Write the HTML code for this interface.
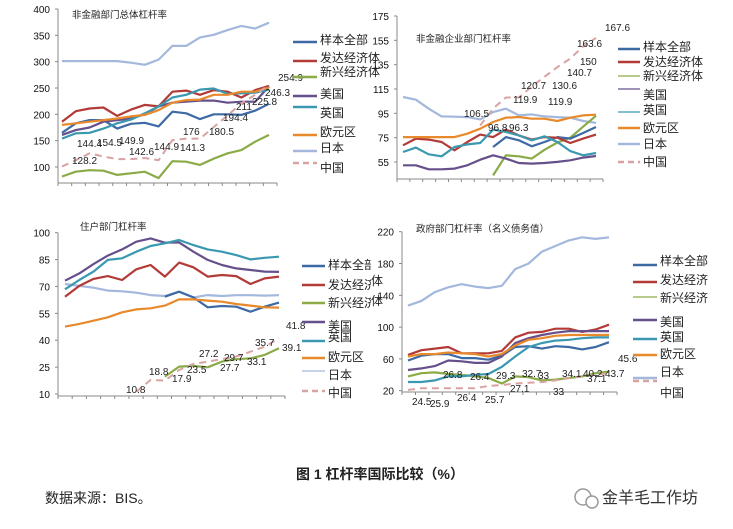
<!DOCTYPE html>
<html><head><meta charset="utf-8"><style>
html,body{margin:0;padding:0;background:#fff;width:733px;height:529px;overflow:hidden}
svg{display:block}
text{font-family:"Liberation Sans","Noto Sans CJK SC",sans-serif}
</style></head><body>
<svg id="c" width="733" height="529" xmlns="http://www.w3.org/2000/svg">
<defs>
<clipPath id="clipL"><rect x="0" y="200" width="371" height="210"/></clipPath>
</defs>
<g id="root"></g>
<text x="371" y="285" font-size="12" fill="#222">体</text>
<text x="371" y="305" font-size="12" fill="#222">体</text>
<text x="380" y="479" text-anchor="middle" font-size="14" font-weight="bold" fill="#222">图 1 杠杆率国际比较（%）</text>
<text x="45" y="503" font-size="14" fill="#222" font-family="Liberation Serif,Noto Serif CJK SC,serif">数据来源：BIS。</text>
<g>
<circle cx="583" cy="497" r="8" fill="none" stroke="#999" stroke-width="1.5"/>
<circle cx="592" cy="502" r="6" fill="#fff" stroke="#999" stroke-width="1.5"/>
<text x="602" y="503" font-size="16" fill="#333">金羊毛工作坊</text>
</g>
</svg>
<script>
// Panel 1 data: 非金融部门总体杠杆率
const p1Sample=[165,183,189,189,173,182,184,177,205,202,191,200,200,199,207,220];
const p1Dev=[186,206,211,213,197,209,218,215,243,245,237,246,243,232,246,254];
const p1Emg=[82,91,94,93,85,88,91,79,111,110,104,116,126,132,148,161];
const p1US=[161,170,175,186,189,192,200,215,222,224,226,226,222,224,224,253];
const p1UK=[154,164,165,173,183,190,202,215,232,237,247,249,239,240,241,247];
const p1Euro=[180,183,186,189,192,196,199,208,222,227,228,237,237,243,243,251];
const p1Japan=[301,301,301,301,301,298,294,304,330,330,346,351,360,368,363,374];
const p1China=[101,113,126,120,115,115,117,113,151,154,154,176,198,221,237,256];
const p1Ticks=[100,150,200,250,300,350,400];
// Panel 2 data: 非金融企业部门杠杆率
const p2Sample=[null,null,null,null,null,null,null,67.3,75.5,72.8,67.9,71.4,75.5,74.2,78.8,83.8];
const p2Dev=[68.7,74.2,73.4,71.4,64.6,71.4,77.5,75.5,81.6,76.9,73.4,75.5,75.0,70.6,74.2,77.5];
const p2Emg=[null,null,null,null,null,null,null,44,60.5,59.7,57.8,65,71,75,84,93];
const p2US=[52.3,52.3,49,49,49.6,52.3,56.9,60.5,57.8,54.2,53.7,54.2,55.1,56.4,58.6,59.9];
const p2UK=[63.2,66.8,61.3,59.7,67.3,69.5,70.6,81.6,79.7,76.9,72.8,76.1,71.4,64,60.5,62.4];
const p2Euro=[75.5,75.5,75.5,75.5,75.5,78.3,82.4,87.9,91.4,92,90.6,90.6,88.7,91.4,93.3,93.9];
const p2Japan=[108.4,106.2,98.8,92.5,92.2,91.9,90,96,98.8,93.3,94.1,92.5,91.9,91.4,88.7,87.1];
const p2China=[null,null,null,null,null,null,85,99,108,108,117,125,133,140,150,157];
const p2Ticks=[55,75,95,115,135,155,175];
// Panel 3 data: 住户部门杠杆率
const p3Sample=[null,null,null,null,null,null,null,64.3,67.1,63.9,58.4,59.1,58.7,55.9,58.7,61];
const p3Dev=[64.3,70.3,74.2,75.8,73.6,79.6,82,75.5,83.3,80.7,75.5,76.4,75.8,71.4,74.5,75.5];
const p3Emg=[null,null,null,null,null,null,null,19.7,25.3,25.7,24.9,28.1,29.4,29.9,31.8,35.5];
const p3US=[73.2,77.3,82.5,87.2,90.7,95,96.8,94.4,94.6,89.4,84.8,82,80.1,79.2,78.3,78.1];
const p3UK=[68.4,73.6,78.3,84.8,85.7,89.4,92.6,94.1,95.9,93.1,90.7,89.4,87.5,85.1,86,86.6];
const p3Euro=[47.6,49.1,50.9,52.8,55.6,57.2,57.8,59.3,62.8,62.8,62.1,61.5,60.2,59.3,58.4,58.2];
const p3Japan=[71.4,70.3,69.3,67.7,67.3,66.5,65.2,64.7,67.1,63.9,65.2,64.7,65.1,65.1,64.9,65.1];
const p3China=[null,null,null,null,null,11.3,17.8,17.5,23.4,26.8,28.1,29.5,30.9,33.6,36.4,41.1];
const p3Ticks=[10,25,40,55,70,85,100];
// Panel 4 data: 政府部门杠杆率
const p4Sample=[58,64,66,66,61,61,59,64,75,76,73,76,75,72,75,81];
const p4Dev=[65,71,73,75,67,67,67,70,87,93,94,98,98,94,97,103];
const p4Emg=[38,42,43,41,40,38,36,29,38,37,33,34,36,38,42,44];
const p4US=[46,48,51,58,57,55,55,63,80,86,90,93,95,95,95,95];
const p4UK=[31,31,33,38,38,40,41,50,63,75,80,83,84,86,87,87];
const p4Euro=[63,66,66,68,67,66,63,66,77,84,86,89,90,90,90,90];
const p4Japan=[127,133,144,150,154,151,149,152,173,180,195,202,209,213,211,213];
const p4China=[21,23,23,23,23,23,26,27,29,30,31,33,36,38,40,42];
const p4Ticks=[20,60,100,140,180,220];

const seriesNames=['样本全部','发达经济体','新兴经济体','美国','英国','欧元区','日本','中国'];
const p4Names=['样本全部','发达经济','新兴经济','美国','英国','欧元区','日本','中国'];
const colors=['#3d6aa5','#b23a37','#8aab47','#66508c','#3a99b1','#e8892b','#a3b8dc','#d8a3a2'];
const keys=['sample','developed','emerging','us','uk','euro','japan','china'];

const NS='http://www.w3.org/2000/svg';
const root=document.getElementById('root');
function mk(tag,attrs,parent){const e=document.createElementNS(NS,tag);for(const k in attrs)e.setAttribute(k,attrs[k]);(parent||root).appendChild(e);return e;}

function panel(cfg){
  const g=mk('g',{});
  
  
  if(cfg.clip) g.setAttribute('clip-path','url(#clipL)');
  const yS=v=>cfg.yTop+(cfg.vTop-v)*(cfg.yBot-cfg.yTop)/(cfg.vTop-cfg.vBot);
  const xS=i=>cfg.x0+i*(cfg.x1-cfg.x0)/15;
  const ya=mk('line',{x1:cfg.ax,y1:cfg.yTop,x2:cfg.ax,y2:cfg.axY,stroke:'#888','stroke-width':1},g);
  
  const xa=mk('line',{x1:cfg.ax,y1:cfg.axY,x2:cfg.axR,y2:cfg.axY,stroke:'#888','stroke-width':1},g);
  
  for(let i=0;i<=16;i++){const x=cfg.ax+i*(cfg.axR-cfg.ax)/16;mk('line',{x1:x,y1:cfg.axY,x2:x,y2:cfg.axY+3,stroke:'#888'},g);}
  cfg.ticks.forEach(t=>{
    const y=yS(t);
    mk('line',{x1:cfg.ax-3,y1:y,x2:cfg.ax,y2:y,stroke:'#888'},g);
    const tx=mk('text',{x:cfg.ax-8,y:y+4,'font-size':10,'text-anchor':'end',fill:'#111'},g);
    tx.textContent=t;
    
  });
  const tt=mk('text',{x:cfg.tx,y:cfg.ty,'font-size':9.5,fill:'#222'},g);
  tt.textContent=cfg.title;
  
  const drawOrder=[6,2,0,1,3,4,5,7];
  drawOrder.forEach(s=>{
    const data=cfg.series[s];let d='';let pen=false;
    data.forEach((v,i)=>{if(v==null){pen=false;return;}d+=(pen?'L':'M')+xS(i).toFixed(1)+','+yS(v).toFixed(1);pen=true;});
    const p=mk('path',{d:d,fill:'none',stroke:colors[s],'stroke-width':s==7?2:2.2,'stroke-dasharray':s==7?'7,5':'none','stroke-linejoin':'round'},g);
    
    
  });
  cfg.ann.forEach(a=>{
    const t=mk('text',{x:a[1],y:a[2]+4,'font-size':10,fill:'#222'},g);
    t.textContent=a[0];
    
  });
  cfg.leg.forEach((L,s)=>{
    const lg=mk('g',{},g);
    
    
    mk('line',{x1:cfg.lx0,y1:L[0],x2:cfg.lx1,y2:L[0],stroke:colors[s],'stroke-width':L[2]?1.2:2.6,'stroke-dasharray':s==7?'6,4':'none'},lg);
    const t=mk('text',{x:cfg.ltx,y:L[1]+4,'font-size':12,fill:'#222'},lg);
    t.textContent=cfg.names[s];
  });
}

panel({name:'panel-nonfinancial-total',title:'非金融部门总体杠杆率',tx:72,ty:18,
 vTop:400,vBot:100,yTop:9,yBot:167,ax:58,axY:183,axR:277,x0:62,x1:269,ticks:p1Ticks,
 series:[p1Sample,p1Dev,p1Emg,p1US,p1UK,p1Euro,p1Japan,p1China],names:seriesNames,
 lx0:293,lx1:317,ltx:320,
 leg:[[42,40],[61,58],[77,72],[96,94],[107,113],[135,132],[151,148],[163,168]],
 ann:[['254.9',278,77],['246.3',265,92],['225.8',252,101],['211',236,106],['194.4',223,117],['180.5',209,131],['176',183,131],['141.3',180,147],['144.9',154,146],['142.6',129,151],['149.9',119,140],['154.5',97,142],['144.4',77,143],['128.2',72,160]]});

panel({name:'panel-nonfinancial-corporate',title:'非金融企业部门杠杆率',tx:416,ty:42,
 vTop:175,vBot:55,yTop:16,yBot:162,ax:397,axY:179,axR:603,x0:403,x1:596,ticks:p2Ticks,
 series:[p2Sample,p2Dev,p2Emg,p2US,p2UK,p2Euro,p2Japan,p2China],names:seriesNames,
 lx0:618,lx1:640,ltx:643,
 leg:[[49,47],[62,62],[76,76,1],[89,95,1],[112,110,1],[128,128],[144,144],[162,162]],
 ann:[['167.6',605,27],['163.6',577,43],['150',580,61],['140.7',567,72],['130.6',552,85],['120.7',521,85],['119.9',513,99],['119.9',548,101],['106.5',464,113],['96.8',488,127],['96.3',509,127]]});

panel({name:'panel-household',title:'住户部门杠杆率',tx:80,ty:230,clip:true,
 vTop:100,vBot:10,yTop:232.7,yBot:394,ax:58,axY:396,axR:285,x0:65,x1:279,ticks:p3Ticks,
 series:[p3Sample,p3Dev,p3Emg,p3US,p3UK,p3Euro,p3Japan,p3China],names:seriesNames,
 lx0:302,lx1:325,ltx:328,
 leg:[[266,265],[285,285],[303,303],[322,326],[341,337],[358,357],[371,375,1],[391,393]],
 ann:[['41.8',286,325],['35.7',255,342],['39.1',282,347],['27.2',199,353],['29.7',224,357],['27.7',220,367],['33.1',247,361],['23.5',187,369],['18.8',149,371],['17.9',172,378],['10.8',126,389]]});

panel({name:'panel-government',title:'政府部门杠杆率（名义债务值）',tx:416,ty:232,
 vTop:220,vBot:20,yTop:231.7,yBot:390.7,ax:402,axY:392,axR:617,x0:408,x1:609,ticks:p4Ticks,
 series:[p4Sample,p4Dev,p4Emg,p4US,p4UK,p4Euro,p4Japan,p4China],names:p4Names,
 lx0:633,lx1:657,ltx:660,
 leg:[[265,261],[282,280],[297,298,1],[320,322],[339,337],[355,354],[378,372],[381,393]],
 ann:[['45.6',618,358],['43.7',605,373],['40.2',583,373],['37.1',587,378],['34.1',562,373],['33',553,391],['32.7',522,373],['33',538,375],['29.3',496,375],['27.1',510,388],['25.7',485,399],['26.4',470,376],['26.4',457,397],['26.8',443,374],['25.9',430,403],['24.5',412,401]]});
</script>
</body></html>
